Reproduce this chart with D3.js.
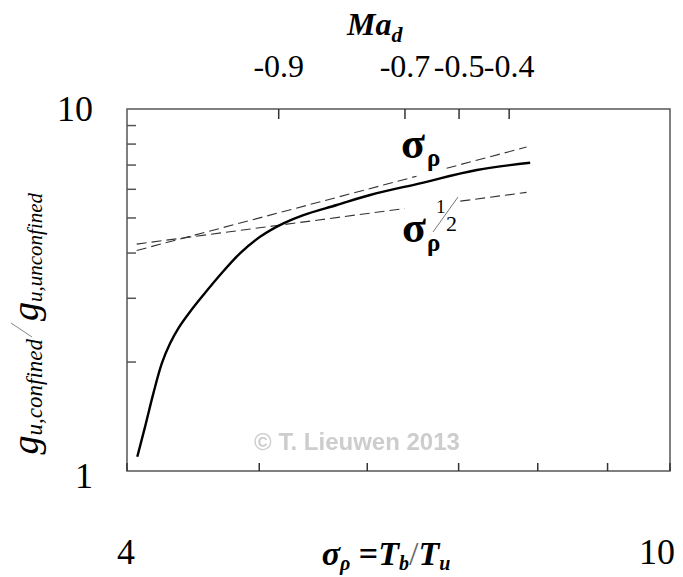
<!DOCTYPE html>
<html>
<head>
<meta charset="utf-8">
<script src="https://cdn.jsdelivr.net/npm/d3@7"></script>
<style>
  body { margin: 0; background: #fff; }
  svg { display: block; }
  .serif { font-family: "Liberation Serif", "Times New Roman", Times, serif; }
</style>
</head>
<body>
<svg id="chart" width="683" height="577"></svg>
<script>
// Growth-rate ratio of the confined to unconfined flame versus density ratio
const sigmaRho = [4.07, 4.124, 4.182, 4.242, 4.302, 4.362, 4.449, 4.55, 4.68, 4.84,
                  5.007, 5.208, 5.387, 5.699, 6.029, 6.558, 7.219, 7.898];
const growthRatio = [1.095, 1.326, 1.639, 1.984, 2.254, 2.479, 2.754, 3.063, 3.478, 3.994,
                     4.438, 4.833, 5.095, 5.43, 5.787, 6.234, 6.784, 7.106];

// Reference scalings g ~ sigma and g ~ sigma^(1/2)
const asymptoteSpan = [4.066, 7.85];
const linearCoef = 1.0;
const sqrtCoef = 2.1;
const linearGap = [6.52, 6.86];
const sqrtGap = [6.39, 7.02];

// Axes
const xTicks = [4, 5, 6, 7, 8, 9, 10];
const xTickLabels = [4, 10];
const yTicks = [1, 2, 3, 4, 5, 6, 7, 8, 9, 10];
const yTickLabels = [1, 10];
const madTickSigma = [5.167, 6.394, 7.005, 7.623];
const madTickLabels = ["-0.9", "-0.7", "-0.5", "-0.4"];

const svg = d3.select("#chart");
const axisColor = "#555";

const x = d3.scaleLog().domain([4, 10]).range([127, 670]);
const y = d3.scaleLog().domain([1, 10]).range([471, 109]);

// Frame
svg.append("rect")
  .attr("x", x(4)).attr("y", y(10))
  .attr("width", x(10) - x(4)).attr("height", y(1) - y(10))
  .attr("fill", "none").attr("stroke", axisColor).attr("stroke-width", 1.5);

// Bottom ticks (inward)
svg.append("g").selectAll("line").data(xTicks).join("line")
  .attr("x1", d => x(d)).attr("x2", d => x(d))
  .attr("y1", y(1)).attr("y2", y(1) - 8)
  .attr("stroke", "#333").attr("stroke-width", 1.5);

// Left ticks (inward)
svg.append("g").selectAll("line").data(yTicks.filter(d => d > 1 && d < 10)).join("line")
  .attr("x1", x(4)).attr("x2", x(4) + 9)
  .attr("y1", d => y(d)).attr("y2", d => y(d))
  .attr("stroke", axisColor).attr("stroke-width", 1.5);

// Top Ma_d ticks (inward)
svg.append("g").selectAll("line").data(madTickSigma).join("line")
  .attr("x1", d => x(d)).attr("x2", d => x(d))
  .attr("y1", y(10)).attr("y2", y(10) + 10)
  .attr("stroke", "#333").attr("stroke-width", 1.5);

// Tick labels
svg.append("g").selectAll("text").data(yTickLabels).join("text")
  .attr("class", "serif")
  .attr("x", 93)
  .attr("y", d => y(d) + (d === 1 ? 17 : 12))
  .attr("text-anchor", "end")
  .attr("font-size", 36)
  .text(d => d);

svg.append("g").selectAll("text").data(xTickLabels).join("text")
  .attr("class", "serif")
  .attr("x", d => d === 4 ? x(d) - 1 : x(d) - 13)
  .attr("y", 564)
  .attr("text-anchor", "middle")
  .attr("font-size", 36)
  .text(d => d);

svg.append("g").selectAll("text").data(madTickSigma).join("text")
  .attr("class", "serif")
  .attr("x", d => x(d))
  .attr("y", 77)
  .attr("text-anchor", "middle")
  .attr("font-size", 32)
  .text((d, i) => madTickLabels[i]);

// Top axis title
const ma = svg.append("text")
  .attr("class", "serif")
  .attr("x", 347).attr("y", 35)
  .attr("font-style", "italic").attr("font-weight", "bold")
  .attr("font-size", 32);
ma.append("tspan").text("Ma");
ma.append("tspan").attr("font-size", 22).attr("dy", 7).text("d");

// Bottom axis title
const xt = svg.append("text")
  .attr("class", "serif")
  .attr("x", 386).attr("y", 565)
  .attr("text-anchor", "middle")
  .attr("font-style", "italic").attr("font-weight", "bold")
  .attr("font-size", 34);
xt.append("tspan").text("σ");
xt.append("tspan").attr("font-size", 20).attr("dy", 5).text("ρ");
xt.append("tspan").attr("dy", -5).attr("font-style", "normal").text(" =");
xt.append("tspan").text("T");
xt.append("tspan").attr("font-size", 20).attr("dy", 5).text("b");
xt.append("tspan").attr("dy", -5).attr("font-weight", "normal").attr("font-style", "normal")
  .attr("fill", "#666").text("/");
xt.append("tspan").text("T");
xt.append("tspan").attr("font-size", 20).attr("dy", 5).text("u");

// Left axis title (rotated)
const yt = svg.append("g").attr("transform", "translate(38,330) rotate(-90)");
const ytA = yt.append("text")
  .attr("class", "serif")
  .attr("x", -9).attr("y", 0).attr("text-anchor", "end")
  .attr("font-style", "italic").attr("font-size", 38);
ytA.append("tspan").text("g");
ytA.append("tspan").attr("font-size", 23).attr("dy", 4).text("u,confined");
yt.append("line")
  .attr("x1", -7).attr("y1", -6).attr("x2", 7).attr("y2", -27)
  .attr("stroke", "#888").attr("stroke-width", 1);
const ytB = yt.append("text")
  .attr("class", "serif")
  .attr("x", 9).attr("y", 0).attr("text-anchor", "start")
  .attr("font-style", "italic").attr("font-size", 38);
ytB.append("tspan").text("g");
ytB.append("tspan").attr("font-size", 21).attr("dy", 4).text("u,unconfined");

// Watermark
const defs = svg.append("defs");
defs.append("filter").attr("id", "soft")
  .append("feGaussianBlur").attr("stdDeviation", 0.7);
svg.append("text")
  .attr("x", 357).attr("y", 450)
  .attr("text-anchor", "middle")
  .attr("font-family", "'Liberation Sans', Arial, sans-serif").attr("font-weight", "bold")
  .attr("font-size", 24).attr("fill", "#cdcdcd")
  .attr("filter", "url(#soft)")
  .text("© T. Lieuwen 2013");

// Dashed reference scalings, interrupted where their labels sit
const powerLine = (coef, expo, from, to) => [from, to].map(s => [x(s), y(coef * Math.pow(s, expo))]);
const lineGen = d3.line();
const dashed = [
  powerLine(linearCoef, 1, asymptoteSpan[0], linearGap[0]),
  powerLine(linearCoef, 1, linearGap[1], asymptoteSpan[1]),
  powerLine(sqrtCoef, 0.5, asymptoteSpan[0], sqrtGap[0]),
  powerLine(sqrtCoef, 0.5, sqrtGap[1], asymptoteSpan[1])
];
svg.append("g").selectAll("path").data(dashed).join("path")
  .attr("d", lineGen)
  .attr("fill", "none").attr("stroke", "#333").attr("stroke-width", 1.1)
  .attr("stroke-dasharray", "10,5");

// Solid curve
const curve = d3.line()
  .x((d, i) => x(sigmaRho[i]))
  .y(d => y(d))
  .curve(d3.curveCatmullRom.alpha(0.5));
svg.append("path")
  .datum(growthRatio)
  .attr("d", curve)
  .attr("fill", "none").attr("stroke", "#000").attr("stroke-width", 2.4);

// Scaling labels
const la = svg.append("text")
  .attr("class", "serif")
  .attr("x", 401).attr("y", 158)
  .attr("font-weight", "bold").attr("font-size", 44);
la.append("tspan").text("σ");
la.append("tspan").attr("font-size", 25).attr("dx", 2).attr("dy", 8).text("ρ");

const lb = svg.append("g");
const lbt = lb.append("text")
  .attr("class", "serif")
  .attr("x", 402).attr("y", 242)
  .attr("font-weight", "bold").attr("font-size", 44);
lbt.append("tspan").text("σ");
lbt.append("tspan").attr("font-size", 25).attr("dx", 1).attr("dy", 9).text("ρ");
lb.append("text").attr("class", "serif").attr("x", 436).attr("y", 213)
  .attr("font-size", 19).text("1");
lb.append("line").attr("x1", 433).attr("y1", 232).attr("x2", 458).attr("y2", 197)
  .attr("stroke", "#555").attr("stroke-width", 0.8);
lb.append("text").attr("class", "serif").attr("x", 446).attr("y", 231)
  .attr("font-size", 22).text("2");
</script>
</body>
</html>
